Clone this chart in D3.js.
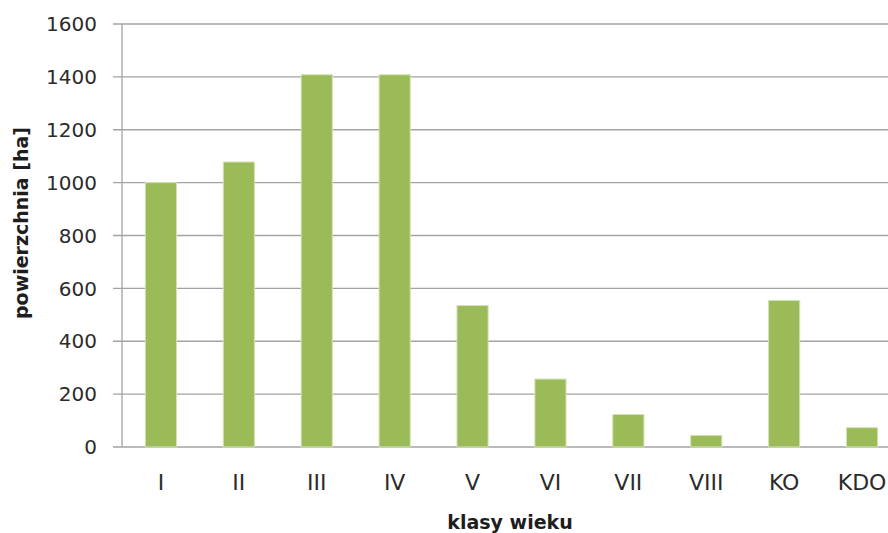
<!DOCTYPE html>
<html>
<head>
<meta charset="utf-8">
<script src="https://cdn.jsdelivr.net/npm/d3@7"></script>
<style>
  html, body { margin: 0; padding: 0; background: #fff; }
  svg { display: block; font-family: "DejaVu Sans", sans-serif; }
</style>
</head>
<body>
<svg id="chart" width="888" height="533"></svg>
<script>
// Age classes and their area in hectares
const categories = ["I", "II", "III", "IV", "V", "VI", "VII", "VIII", "KO", "KDO"];
const areas = [1000, 1078, 1408, 1408, 535, 257, 123, 44, 554, 73];
const yTicks = [0, 200, 400, 600, 800, 1000, 1200, 1400, 1600];

const svg = d3.select("#chart");
const plotLeft = 122, plotRight = 901, plotTop = 24, plotBottom = 447;

const x = d3.scaleBand()
  .domain(categories)
  .range([plotLeft, plotRight])
  .paddingInner(0.6)
  .paddingOuter(0.3);

const y = d3.scaleLinear()
  .domain([0, 1600])
  .range([plotBottom, plotTop]);

// horizontal gridlines
svg.append("g")
  .selectAll("line")
  .data(yTicks)
  .join("line")
  .attr("x1", plotLeft - 9)
  .attr("x2", 888)
  .attr("y1", d => y(d))
  .attr("y2", d => y(d))
  .attr("stroke", "#a3a3a3")
  .attr("stroke-width", 1.3);

// vertical axis line
svg.append("line")
  .attr("x1", plotLeft).attr("x2", plotLeft)
  .attr("y1", plotTop).attr("y2", plotBottom)
  .attr("stroke", "#a3a3a3")
  .attr("stroke-width", 1.3);

// y tick labels
svg.append("g")
  .selectAll("text")
  .data(yTicks)
  .join("text")
  .attr("x", 97)
  .attr("y", d => y(d))
  .attr("dy", "0.36em")
  .attr("text-anchor", "end")
  .attr("font-size", 20)
  .attr("fill", "#2b2b2b")
  .text(d => d);

// bars
svg.append("g")
  .selectAll("rect")
  .data(categories)
  .join("rect")
  .attr("x", d => x(d))
  .attr("width", x.bandwidth())
  .attr("y", (d, i) => y(areas[i]))
  .attr("height", (d, i) => plotBottom - y(areas[i]))
  .attr("fill", "#9bbb59")
  .attr("stroke", "#d3e3b5")
  .attr("stroke-width", 1);

// category labels
svg.append("g")
  .selectAll("text")
  .data(categories)
  .join("text")
  .attr("x", d => x(d) + x.bandwidth() / 2)
  .attr("y", 490)
  .attr("text-anchor", "middle")
  .attr("font-size", 22)
  .attr("fill", "#2b2b2b")
  .text(d => d);

// axis titles
svg.append("text")
  .attr("transform", "translate(28,223) rotate(-90)")
  .attr("text-anchor", "middle")
  .attr("font-size", 19)
  .attr("font-weight", "bold")
  .attr("fill", "#1e1e1e")
  .text("powierzchnia [ha]");

svg.append("text")
  .attr("x", 510)
  .attr("y", 529)
  .attr("text-anchor", "middle")
  .attr("font-size", 19)
  .attr("font-weight", "bold")
  .attr("fill", "#1e1e1e")
  .text("klasy wieku");
</script>
</body>
</html>
